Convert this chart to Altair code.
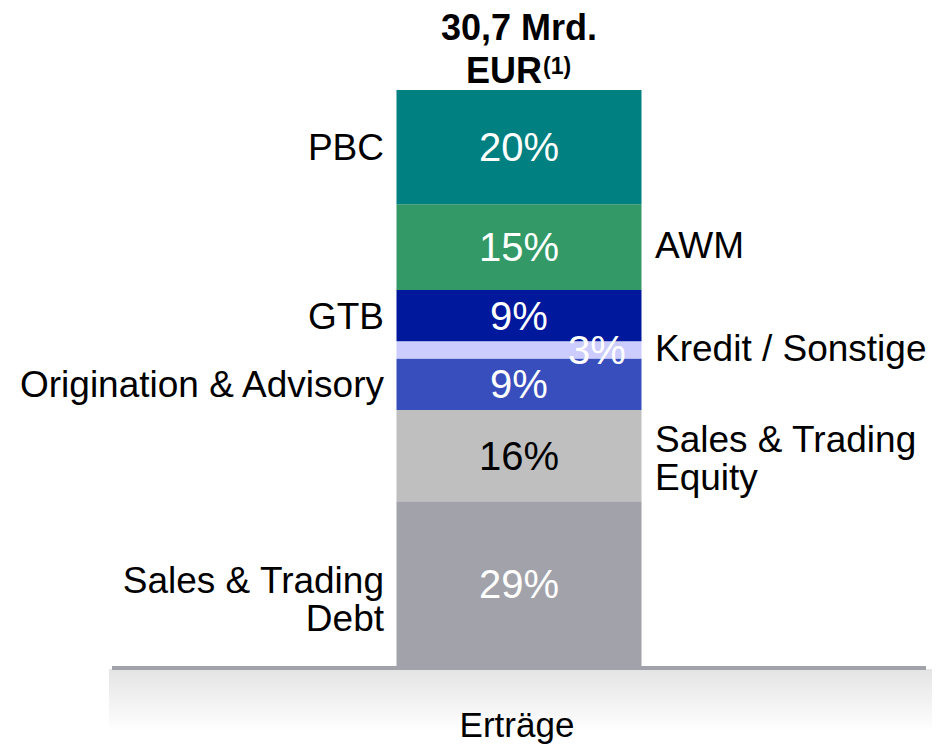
import altair as alt
import pandas as pd

# ---- data ----
keys = ["debt", "equity", "oa", "kredit", "gtb", "awm", "pbc"]
segment_names = ["Sales & Trading\nDebt", "Sales & Trading\nEquity", "Origination & Advisory",
                 "Kredit / Sonstige", "GTB", "AWM", "PBC"]
shares = [29, 16, 9, 3, 9, 15, 20]
share_labels = ["29%", "16%", "9%", "3%", "9%", "15%", "20%"]
label_sides = ["left", "right", "left", "right", "left", "right", "left"]
segment_colors = ["#a2a2aa", "#bfbfbf", "#384ebd", "#ccccff", "#00189c", "#339966", "#008080"]
bar_category = "Erträge"
title_line1 = "30,7 Mrd."
title_line2 = "EUR"
title_note = "(1)"

df = pd.DataFrame({
    "key": keys,
    "name": segment_names,
    "value": shares,
    "pct": share_labels,
    "side": label_sides,
    "order": list(range(len(keys))),
    "bar": [bar_category] * len(keys),
})

FONT = "Liberation Sans"
W, H = 822, 577
LABEL_SIZE = 37

xenc = alt.X("bar:N", axis=None, scale=alt.Scale(paddingInner=0, paddingOuter=0))
yscale = alt.Scale(domain=[0, 101], nice=False, zero=True)

base = (
    alt.Chart(df)
    .transform_stack(stack="value", groupby=["bar"], as_=["y0", "y1"],
                     sort=[alt.SortField("order", order="ascending")])
    .transform_calculate(mid="(datum.y0 + datum.y1) / 2")
)

color_enc = alt.Color("key:N", scale=alt.Scale(domain=keys, range=segment_colors), legend=None)
ymid = alt.Y("mid:Q", scale=yscale, axis=None)

bars = base.mark_bar(size=245).encode(
    x=xenc,
    y=alt.Y("y0:Q", scale=yscale, axis=None),
    y2="y1:Q",
    color=color_enc,
)

pct_main = base.transform_filter(alt.datum.key != "kredit").mark_text(
    font=FONT, fontSize=40, baseline="middle", align="center", dy=2
).encode(
    x=xenc, y=ymid, text="pct:N",
    color=alt.when(alt.datum.key == "equity").then(alt.value("#000000")).otherwise(alt.value("#ffffff")),
)

pct_kredit = base.transform_filter(alt.datum.key == "kredit").mark_text(
    font=FONT, fontSize=40, baseline="middle", align="center", dx=78, dy=2, color="#ffffff"
).encode(x=xenc, y=ymid, text="pct:N")

left_labels = base.transform_filter(
    (alt.datum.side == "left") & (alt.datum.key != "debt")
).mark_text(
    font=FONT, fontSize=LABEL_SIZE, baseline="middle", align="right", dx=-135, dy=2,
    color="#000000"
).encode(x=xenc, y=ymid, text="name:N")

debt_label = base.transform_filter(alt.datum.key == "debt").mark_text(
    font=FONT, fontSize=LABEL_SIZE, baseline="middle", align="right", dx=-135, dy=-2,
    lineBreak="\n", lineHeight=38, color="#000000"
).encode(x=xenc, y=ymid, text="name:N")

right_labels = base.transform_filter(
    (alt.datum.side == "right") & (alt.datum.key != "equity")
).mark_text(
    font=FONT, fontSize=LABEL_SIZE, baseline="middle", align="left", dx=136, dy=0,
    color="#000000"
).encode(x=xenc, y=ymid, text="name:N")

equity_label = base.transform_filter(alt.datum.key == "equity").mark_text(
    font=FONT, fontSize=LABEL_SIZE, baseline="middle", align="left", dx=136, dy=-15,
    lineBreak="\n", lineHeight=38, color="#000000"
).encode(x=xenc, y=ymid, text="name:N")

dummy = pd.DataFrame({"a": [0]})

band = alt.Chart(dummy).mark_rect(
    color=alt.Gradient(
        gradient="linear",
        stops=[alt.GradientStop(color="#e4e4e4", offset=0),
               alt.GradientStop(color="#ffffff", offset=1)],
        x1=0, x2=0, y1=0, y2=1,
    )
).encode(x=alt.value(1), x2=alt.value(824), y=alt.value(579), y2=alt.value(642))

baseline = alt.Chart(dummy).mark_rule(color="#a2a2aa", strokeWidth=4).encode(
    x=alt.value(4), x2=alt.value(818), y=alt.value(578)
)

t1 = alt.Chart(pd.DataFrame({"t": [title_line1]})).mark_text(
    font=FONT, fontSize=36, fontWeight="bold", align="center", baseline="middle", color="#000000"
).encode(text="t:N", x=alt.value(411), y=alt.value(-61))

t2 = alt.Chart(pd.DataFrame({"t": [title_line2]})).mark_text(
    font=FONT, fontSize=36, fontWeight="bold", align="right", baseline="middle", color="#000000"
).encode(text="t:N", x=alt.value(434), y=alt.value(-18))

t3 = alt.Chart(pd.DataFrame({"t": [title_note]})).mark_text(
    font=FONT, fontSize=23, fontWeight="bold", align="left", baseline="middle", color="#000000"
).encode(text="t:N", x=alt.value(435), y=alt.value(-23))

cat_label = alt.Chart(pd.DataFrame({"t": [bar_category]})).mark_text(
    font=FONT, fontSize=35, align="center", baseline="alphabetic", color="#000000"
).encode(text="t:N", x=alt.value(409), y=alt.value(647))

chart = alt.layer(
    band, baseline, bars, pct_main, pct_kredit, left_labels, debt_label, right_labels,
    equity_label, t1, t2, t3, cat_label
).properties(
    width=W, height=H,
    autosize=alt.AutoSizeParams(type="none"),
    padding={"left": 100, "top": 82, "right": 7, "bottom": 79},
    background="#ffffff",
).configure_view(stroke=None)

chart.save("out.html", embed_options={"renderer": "svg", "actions": False})
